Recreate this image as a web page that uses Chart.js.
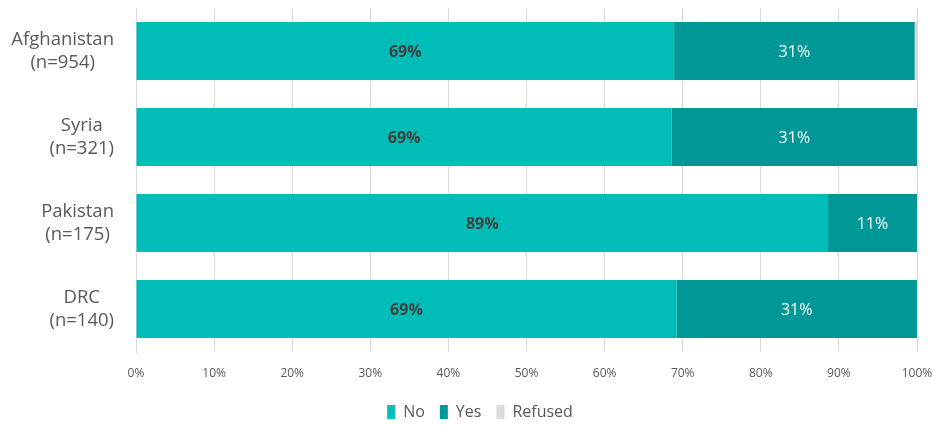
<!DOCTYPE html>
<html>
<head>
<meta charset="utf-8">
<script src="https://cdn.jsdelivr.net/npm/chart.js@4.4.0/dist/chart.umd.min.js"></script>
<style>
  html, body { margin: 0; padding: 0; background: #fff; }
  #wrap { width: 932px; height: 425px; position: relative; }
</style>
</head>
<body>
<div id="wrap"><canvas id="chart"></canvas></div>
<script>
// Chart data
const countries = [["Afghanistan", "(n=954)"], ["Syria", "(n=321)"], ["Pakistan", "(n=175)"], ["DRC", "(n=140)"]];
const noValues = [68.9, 68.6, 88.6, 69.2];
const yesValues = [30.8, 31.4, 11.4, 30.8];
const refusedValues = [0.3, 0, 0, 0];
const xTicks = [0, 10, 20, 30, 40, 50, 60, 70, 80, 90, 100];

const FONT = "'Open Sans', sans-serif";

// Draws the percentage labels inside the bars
const barLabels = {
  id: "barLabels",
  afterDatasetsDraw(chart) {
    const ctx = chart.ctx;
    ctx.save();
    ctx.textAlign = "center";
    ctx.textBaseline = "middle";
    chart.data.datasets.forEach(function(ds, i) {
      if (!ds.labelColor) return;
      const meta = chart.getDatasetMeta(i);
      meta.data.forEach(function(bar, j) {
        const v = ds.data[j];
        if (v < 1) return;
        ctx.fillStyle = ds.labelColor;
        ctx.font = (ds.labelBold ? "bold " : "") + "16px " + FONT;
        ctx.fillText(Math.round(v) + "%", (bar.x + bar.base) / 2, bar.y + 1);
      });
    });
    ctx.restore();
  }
};

// Category labels: block right aligned, lines centered inside the block
const yLabels = {
  id: "yLabels",
  afterDraw(chart) {
    const ctx = chart.ctx;
    const scale = chart.scales.y;
    ctx.save();
    ctx.font = "18.5px " + FONT;
    ctx.fillStyle = "#595959";
    ctx.textAlign = "center";
    ctx.textBaseline = "middle";
    countries.forEach(function(lines, i) {
      const y = scale.getPixelForTick(i);
      const w = Math.max.apply(null, lines.map(function(l) { return ctx.measureText(l).width; }));
      const cx = scale.right - 22 - w / 2;
      const lh = 23;
      lines.forEach(function(l, k) {
        ctx.fillText(l, cx, y + (k - (lines.length - 1) / 2) * lh);
      });
    });
    ctx.restore();
  }
};

// Fix the legend box height and nudge it right, like the original
const legendFix = {
  id: "legendFix",
  beforeLayout(chart) {
    const lg = chart.legend;
    if (lg && !lg._fixed) {
      const fit = lg.fit;
      lg.fit = function() {
        fit.call(this);
        this.height = 36;
      };
      lg._fixed = true;
    }
  },
  afterLayout(chart) {
    const lg = chart.legend;
    if (lg) {
      lg.left += 14;
      lg.right += 14;
    }
  }
};

const ctx = document.getElementById("chart").getContext("2d");
new Chart(ctx, {
  type: "bar",
  data: {
    labels: countries,
    datasets: [
      { label: "No", data: noValues, backgroundColor: "#00bdb8", labelColor: "#404040", labelBold: true },
      { label: "Yes", data: yesValues, backgroundColor: "#009896", labelColor: "#ffffff", labelBold: false },
      { label: "Refused", data: refusedValues, backgroundColor: "#d9d9d9" }
    ]
  },
  options: {
    indexAxis: "y",
    responsive: true,
    maintainAspectRatio: false,
    animation: false,
    datasets: {
      bar: { categoryPercentage: 1, barPercentage: 0.675, borderWidth: 0 }
    },
    layout: { padding: { top: 8, right: 0, left: 0, bottom: 0 } },
    plugins: {
      legend: {
        position: "bottom",
        labels: {
          font: { family: FONT, size: 16 },
          color: "#595959",
          boxWidth: 8,
          boxHeight: 14,
          padding: 15
        }
      },
      tooltip: { enabled: false }
    },
    scales: {
      x: {
        stacked: true,
        min: 0,
        max: 100,
        afterBuildTicks: function(scale) {
          scale.ticks = xTicks.map(function(v) { return { value: v }; });
        },
        afterFit: function(scale) {
          scale.height = 37;
          scale.paddingRight = 15;
        },
        ticks: {
          callback: function(v) { return v + "%"; },
          font: { family: FONT, size: 12 },
          color: "#595959",
          padding: 14,
          maxRotation: 0
        },
        grid: { color: "#d9d9d9", drawTicks: false },
        border: { display: false }
      },
      y: {
        stacked: true,
        afterFit: function(scale) { scale.width = 136; },
        ticks: { display: false },
        grid: { display: false },
        border: { display: true, color: "#d9d9d9" }
      }
    }
  },
  plugins: [barLabels, yLabels, legendFix]
});
</script>
</body>
</html>
